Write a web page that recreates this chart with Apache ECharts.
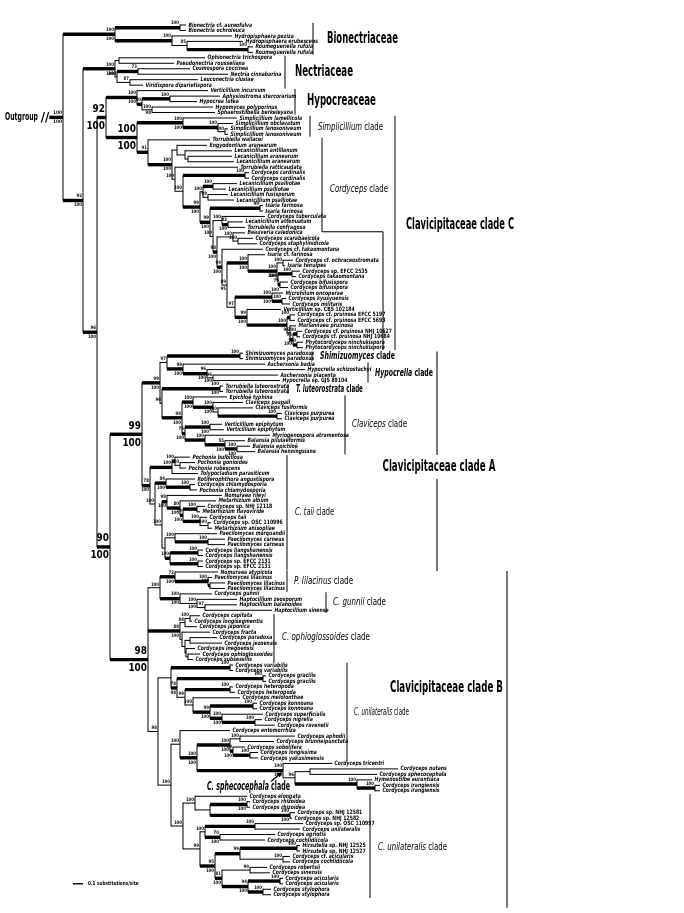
<!DOCTYPE html>
<html>
<head>
<meta charset="utf-8">
<script src="https://cdn.jsdelivr.net/npm/echarts@6/dist/echarts.min.js"></script>
<style>
  html, body { margin: 0; padding: 0; background: #fff; }
  #chart { width: 684px; height: 913px; }
</style>
</head>
<body>
<div id="chart"></div>
<script>
// ---- taxa, top to bottom (leaf index = position in this list) ----
const leafNames = [
  'Bionectria cf. aureofulva', 'Bionectria ochroleuca', 'Hydropisphaera peziza', 'Hydropisphaera erubescens',
  'Roumegueriella rufula', 'Roumegueriella rufula', 'Ophionectria trichospora', 'Pseudonectria rousseliana',
  'Cosmospora coccinea', 'Nectria cinnabarina', 'Leuconectria clusiae', 'Viridispora diparietispora',
  'Verticillium incurvum', 'Aphysiostroma stercorarium', 'Hypocrea lutea', 'Hypomyces polyporinus',
  'Sphaerostilbella berkeleyana', 'Simplicillium lamellicola', 'Simplicillium obclavatum', 'Simplicillium lanosoniveum',
  'Simplicillium lanosoniveum', 'Torrubiella wallacei', 'Engyodontium aranearum', 'Lecanicillium antillanum',
  'Lecanicillium aranearum', 'Lecanicillium aranearum', 'Torrubiella ratticaudata', 'Cordyceps cardinalis',
  'Cordyceps cardinalis', 'Lecanicillium psalliotae', 'Lecanicillium psalliotae', 'Lecanicillium fusisporum',
  'Lecanicillium psalliotae', 'Isaria farinosa', 'Isaria farinosa', 'Cordyceps tuberculata',
  'Lecanicillium attenuatum', 'Torrubiella confragosa', 'Beauveria caledonica', 'Cordyceps scarabaeicola',
  'Cordyceps staphylinidicola', 'Cordyceps cf. takaomontana', 'Isaria cf. farinosa', 'Cordyceps cf. ochraceostromata',
  'Isaria tenuipes', 'Cordyceps sp. EFCC 2535', 'Cordyceps takaomontana', 'Cordyceps bifusispora',
  'Cordyceps bifusispora', 'Microhilum oncoperae', 'Cordyceps kyusyuensis', 'Cordyceps militaris',
  'Verticillium sp. CBS 102184', 'Cordyceps cf. pruinosa EFCC 5197', 'Cordyceps cf. pruinosa EFCC 5693', 'Mariannaea pruinosa',
  'Cordyceps cf. pruinosa NHJ 10627', 'Cordyceps cf. pruinosa NHJ 10684', 'Phytocordyceps ninchukispora', 'Phytocordyceps ninchukispora',
  'Shimizuomyces paradoxus', 'Shimizuomyces paradoxus', 'Aschersonia badia', 'Hypocrella schizostachyi',
  'Aschersonia placenta', 'Hypocrella sp. GJS 89104', 'Torrubiella luteorostrata', 'Torrubiella luteorostrata',
  'Epichloë typhina', 'Claviceps paspali', 'Claviceps fusiformis', 'Claviceps purpurea',
  'Claviceps purpurea', 'Verticillium epiphytum', 'Verticillium epiphytum', 'Myriogenospora atramentosa',
  'Balansia pilulaeformis', 'Balansia epichloë', 'Balansia henningsiana', 'Pochonia bulbillosa',
  'Pochonia gonioides', 'Pochonia rubescens', 'Tolypocladium parasiticum', 'Rotiferophthora angustispora',
  'Cordyceps chlamydosporia', 'Pochonia chlamydosporia', 'Nomuraea rileyi', 'Metarhizium album',
  'Cordyceps sp. NHJ 12118', 'Metarhizium flavoviride', 'Cordyceps taii', 'Cordyceps sp. OSC 110996',
  'Metarhizium anisopliae', 'Paecilomyces marquandii', 'Paecilomyces carneus', 'Paecilomyces carneus',
  'Cordyceps liangshanensis', 'Cordyceps liangshanensis', 'Cordyceps sp. EFCC 2131', 'Cordyceps sp. EFCC 2131',
  'Nomuraea atypicola', 'Paecilomyces lilacinus', 'Paecilomyces lilacinus', 'Paecilomyces lilacinus',
  'Cordyceps gunnii', 'Haptocillium zeosporum', 'Haptocillium balanoides', 'Haptocillium sinense',
  'Cordyceps capitata', 'Cordyceps longisegmentis', 'Cordyceps japonica', 'Cordyceps fracta',
  'Cordyceps paradoxa', 'Cordyceps jezoensis', 'Cordyceps inegoensis', 'Cordyceps ophioglossoides',
  'Cordyceps subsessilis', 'Cordyceps variabilis', 'Cordyceps variabilis', 'Cordyceps gracilis',
  'Cordyceps gracilis', 'Cordyceps heteropoda', 'Cordyceps heteropoda', 'Cordyceps melolonthae',
  'Cordyceps konnoana', 'Cordyceps konnoana', 'Cordyceps superficialis', 'Cordyceps nigrella',
  'Cordyceps ravenelii', 'Cordyceps entomorrhiza', 'Cordyceps aphodii', 'Cordyceps brunneipunctata',
  'Cordyceps sobolifera', 'Cordyceps longissima', 'Cordyceps yakusimensis', 'Cordyceps tricentri',
  'Cordyceps nutans', 'Cordyceps sphecocephala', 'Hymenostilbe aurantiaca', 'Cordyceps irangiensis',
  'Cordyceps irangiensis', 'Cordyceps elongata', 'Cordyceps rhizoidea', 'Cordyceps rhizoidea',
  'Cordyceps sp. NHJ 12581', 'Cordyceps sp. NHJ 12582', 'Cordyceps sp. OSC 110997', 'Cordyceps unilateralis',
  'Cordyceps agriotis', 'Cordyceps cochlidiicola', 'Hirsutella sp. NHJ 12525', 'Hirsutella sp. NHJ 12527',
  'Cordyceps cf. acicularis', 'Cordyceps cochlidiicola', 'Cordyceps robertsii', 'Cordyceps sinensis',
  'Cordyceps acicularis', 'Cordyceps acicularis', 'Cordyceps stylophora', 'Cordyceps stylophora'
];

// ---- tree (Newick, leaves = index into leafNames, branch lengths in substitutions/site)
// node labels: "bootstrap/posterior", '*' = strongly supported (bold branch), '!' = major node
const bionectriaceae = '((0:.06,1:.06)100*:.65,(2:.60,(3:.56,(4:.05,5:.05)100*:.61)85:.15)100*:.57)100/100*:.52';
const nectriaceae = '((6:.86,7:.55):.04,((8:.52,9:.90)73*:.21,(10:.68,11:.13)87:.13)100:.02)100/100*:.32';
const hypocreaceae = '(12:.71,((13:.50,14:.27)100*:.28,(15:.61,16:.63)100/98:.10)80*:.05)100/100*:.31';
const simplicillium = '(17:.54,(18:.15,(19:.03,20:.03)100:.07)100*:.35)100/100*:.46';
const cordycepsPruinosa = '(52:.34,((53:.05,54:.05)100*:.03,(55:.06,((56:.05,57:.03)100*:.04,(58:.06,59:.06)100*:.04)94/100*:.03)96:.03)100*:.40)99/100*:.12';
const cordycepsMilitaris = '(49:.11,(50:.04,51:.08)100*:.10)100/100*:.37';
const cordycepsTakaomontana = '(42:.17,((43:.10,44:.02)100:.06,((45:.08,46:.04)100*:.14,(47:.08,48:.08)79/100*:.02)100:.01)100/100*:.29)100/100*:.21';
const cordycepsClade =
  '(21:.62,((22:.30,(23:.47,(24:.44,25:.46):.03):.08):.05,(26:.63,((27:.04,28:.04)100*:.62,' +
  '(((29:.24,30:.13)100*:.10,(31:.20,32:.26)99:.05)100:.03,((33:.03,34:.03)99*:.50,' +
  '((35:.43,(36:.15,37:.17)82/100*:.06)100:.09,((38:.12,(39:.15,40:.19)100:.05)100:.16,' +
  '(41:.41,(' + cordycepsTakaomontana + ',(' + cordycepsMilitaris + ',' + cordycepsPruinosa + ')97:.08)89/95:.05)99/100*:.05)98/100*:.04)100:.03)99/100*:.10)99/100*:.17)100:.08)100:.03)100/100*:.24)91*:.11';
const cladeC = '(' + simplicillium + ',' + cordycepsClade + ')100/100*!:.31';

const cladeAUpper =
  '(((60:.03,61:.03)100*:.73,(62:.82,(63:.98,(64:.65,65:.67)96/100:.06)96/100*:.24)99/100*:.16)97:.07,' +
  '((66:.03,67:.03)100/100*:.58,((68:.34,(69:.30,(70:.35,(71:.05,72:.05)100*:.59)100:.05)100/100*:.20)100/100*:.11,' +
  '((73:.12,74:.14)100/100*:.25,(75:.65,(76:.20,(77:.13,78:.18)100/100*:.12)55/100*:.20)100*:.20)75/100*:.03)98/100*:.20)96:.02)99/100*:.18';
const cladeALower =
  '(((79:.15,(80:.15,81:.06)100:.05)100*:.03,82:.26)100*:.22,((83:.29,(84:.05,85:.07)100*:.24)84/100*:.11,' +
  '((86:.55,(87:.36,((88:.08,89:.03)100*:.14,(90:.07,(91:.03,92:.04)100:.08)100*:.17)79/100*:.03)80/100*:.13)98/100*:.05,' +
  '((93:.42,(94:.17,95:.17)100*:.33)100:.10,((96:.05,97:.05)100*:.28,(98:.05,99:.05)100*:.28)100*:.05):.03)100:.07)100:.05)78/100*:.08';
const cladeA = '(' + cladeAUpper + ',' + cladeALower + ')99/100*!:.32';

const lilacinusGunnii = '((100:.43,(101:.04,(102:.15,103:.15)100*:.02)100*:.33)72/100*:.15,(104:.32,(105:.40,(106:.32,107:.67)97:.08)100/100:.17)100/100*:.20)100:.12';
const ophioglossoides = '(((108:.10,109:.02)100:.05,110:.12)88:.05,(111:.28,((112:.27,113:.32):.05,(114:.09,(115:.12,116:.05):.02):.01):.03):.02)88/100*:.32';
const unilateralisUpper = '((117:.03,118:.03)100*:.59,((119:.03,120:.03)100*:.86,((121:.03,122:.05)100*:.45,(123:.47,((124:.04,125:.04)100*:.43,(126:.41,(127:.07,128:.20)100*:.33)100/100*:.12)99/100*:.17)100:.08)99:.08)78/98*:.06):.13';
const sphecocephala = '(129:.50,(((130:.55,131:.34)100:.10,(132:.12,(133:.08,134:.08)100*:.17)99/100*:.03)100/100*:.33,(135:.49,((136:.88,137:.67):.15,(138:.15,(139:.05,140:.05)100*:.18)100*:.62)96:.12)100/100*:.86)100/100*:.17)100:.09';
const unilateralisLower =
  '((141:.52,((142:.03,143:.03)100/100*:.37,(144:.05,145:.02)100/100*:.80):.15)100:.12,' +
  '(((146:.48,147:.45)100*:.50,(148:.55,149:.45)70/100*:.15)100:.05,(((150:.03,151:.03)100*:.57,(152:.07,153:.07)100:.43)99*:.25,' +
  '((154:.17,155:.20)99:.28,((156:.03,157:.03)100*:.32,(158:.08,159:.08)100*:.15)94/100*:.26)81/100*:.07)95/100*:.15)99:.17)100:.12';
const cladeB = '(' + lilacinusGunnii + ',' + ophioglossoides + ',(' + unilateralisUpper + ',(' + sphecocephala + ',' + unilateralisLower + ')100:.13)98:.10)98/100*!:.38';

const treeNewick = '(' + bionectriaceae + ',(' + nectriaceae + ',((' + hypocreaceae + ',' + cladeC + ')92/100*!:.09,(' +
  cladeA + ',' + cladeB + ')90/100*!:.13)96/100*:.14)92/100*:.20);';

const outgroupLength = 0.18;
const outgroupSupport = ['100', '100'];
const scaleBarLength = 0.1;
const scaleBarLabel = '0.1 substitutions/site';

// ---- clade brackets: [depth, leaf index] points ----
const cladeBrackets = [
  { pts: [[2.50, -0.4], [2.50, 5.4]] },
  { pts: [[2.22, 5.6], [2.22, 11.6]] },
  { pts: [[2.32, 11.7], [2.32, 16.4]] },
  { pts: [[2.47, 16.6], [2.47, 20.4]] },
  { pts: [[2.59, 20.6], [2.59, 37.8], [3.20, 37.8], [3.20, 59.4]] },
  { pts: [[3.32, 16.6], [3.32, 59.4]] },
  { pts: [[2.49, 59.7], [2.49, 61.4]] },
  { pts: [[3.05, 61.7], [3.05, 65.4]] },
  { pts: [[2.25, 65.7], [2.25, 67.4]] },
  { pts: [[2.82, 67.7], [2.82, 78.5]] },
  { pts: [[2.24, 78.6], [2.24, 99.6]] },
  { pts: [[3.74, 59.7], [3.74, 78.6]], grey: true },
  { pts: [[3.74, 83.0], [3.74, 99.8]], grey: true },
  { pts: [[2.24, 99.7], [2.24, 103.6]] },
  { pts: [[2.63, 103.7], [2.63, 107.5]] },
  { pts: [[2.11, 107.7], [2.11, 116.6]] },
  { pts: [[4.44, 99.8], [4.44, 161.4]], grey: true },
  { pts: [[2.84, 116.6], [2.84, 134.6]] },
  { pts: [[3.07, 140.6], [3.07, 159.6]] }
];

// w = printed width of the label in px
const cladeLabels = [
  { text: 'Bionectriaceae', x: 2.64, y: 2.6, size: 15, w: 71, big: true },
  { text: 'Nectriaceae', x: 2.32, y: 8.6, size: 15, w: 58, big: true },
  { text: 'Hypocreaceae', x: 2.44, y: 14.0, size: 15, w: 69, big: true },
  { text: '{i|Simplicillium} clade', x: 2.55, y: 18.6, size: 11, w: 65 },
  { text: '{i|Cordyceps} clade', x: 2.67, y: 30.0, size: 11, w: 58 },
  { text: 'Clavicipitaceae clade C', x: 3.43, y: 36.6, size: 15, w: 108, big: true },
  { text: '{i|Shimizuomyces} clade', x: 2.57, y: 60.6, size: 11, w: 75, bold: true },
  { text: '{i|Hypocrella} clade', x: 3.12, y: 63.6, size: 11, w: 58, bold: true },
  { text: '{i|T. luteorostrata} clade', x: 2.33, y: 66.6, size: 11, w: 67, bold: true },
  { text: '{i|Claviceps} clade', x: 2.89, y: 73.0, size: 11, w: 55 },
  { text: '{i|C. taii} clade', x: 2.32, y: 89.0, size: 11, w: 39 },
  { text: 'Clavicipitaceae clade A', x: 3.76, y: 80.8, size: 15, w: 113, big: true, align: 'center' },
  { text: '{i|P. lilacinus} clade', x: 2.31, y: 101.6, size: 11, w: 59 },
  { text: '{i|C. gunnii} clade', x: 2.70, y: 105.6, size: 11, w: 53 },
  { text: '{i|C. ophioglossoides} clade', x: 2.19, y: 112.0, size: 11, w: 88 },
  { text: 'Clavicipitaceae clade B', x: 4.40, y: 121.2, size: 15, w: 113, big: true, align: 'right' },
  { text: '{i|C. unilateralis} clade', x: 2.91, y: 125.6, size: 10, w: 55 },
  { text: '{i|C. sphecocephala} clade', x: 1.44, y: 139.3, size: 12, w: 83, bold: true },
  { text: '{i|C. unilateralis} clade', x: 3.15, y: 150.3, size: 11, w: 69 }
];
const sphecocephalaArrow = [[2.08, 138.3], [2.19, 136.6]];

// ---- parse the tree ----
function parseNewick(s) {
  let i = 0;
  function node() {
    const n = { children: [] };
    if (s[i] === '(') {
      i++;
      n.children.push(node());
      while (s[i] === ',') { i++; n.children.push(node()); }
      i++;
    }
    let lab = '';
    while (i < s.length && ',():;'.indexOf(s[i]) < 0) lab += s[i++];
    n.len = 0;
    if (s[i] === ':') {
      i++;
      let len = '';
      while (i < s.length && ',();'.indexOf(s[i]) < 0) len += s[i++];
      n.len = parseFloat(len);
    }
    n.label = lab.trim();
    return n;
  }
  return node();
}

const root = parseNewick(treeNewick);
const treeNodes = [];
(function layout(n, parentX) {
  n.parentX = parentX;
  n.x = parentX + n.len;
  if (n.children.length) {
    n.thick = n.label.indexOf('*') >= 0;
    n.big = n.label.indexOf('!') >= 0;
    n.support = n.label.replace(/[*!]/g, '');
    n.children.forEach(c => layout(c, n.x));
    n.y = (n.children[0].y + n.children[n.children.length - 1].y) / 2;
  } else {
    n.leaf = parseInt(n.label, 10);
    n.y = n.leaf;
    n.support = '';
  }
  treeNodes.push(n);
})(root, 0);

// ---- drawing ----
const NARROW = "'Liberation Sans Narrow','Arial Narrow','DejaVu Sans Condensed',sans-serif";
const measureCtx = document.createElement('canvas').getContext('2d');
function plainWidth(text, size, weight) {
  measureCtx.font = weight + ' ' + size + 'px ' + NARROW;
  return measureCtx.measureText(text.replace(/\{i\|([^}]*)\}/g, '$1')).width;
}

function leafRich(name) {
  return name.split(' ').map(w =>
    (w === 'sp.' || w === 'cf.' || /^[A-Z]{2,}$/.test(w) || /^\d+$/.test(w)) ? '{r|' + w + '}' : '{i|' + w + '}'
  ).join(' ');
}

function renderTree(params, api) {
  const n = treeNodes[params.dataIndex];
  const a = api.coord([n.parentX, n.y]);
  const b = api.coord([n.x, n.y]);
  const kids = [];
  if (n.x > n.parentX) {
    kids.push({ type: 'line', shape: { x1: a[0], y1: b[1], x2: b[0], y2: b[1] },
      style: { stroke: '#000', lineWidth: n.thick ? 3.4 : 1 } });
  }
  if (n.children.length) {
    const t = api.coord([n.x, n.children[0].y]);
    const u = api.coord([n.x, n.children[n.children.length - 1].y]);
    kids.push({ type: 'line', shape: { x1: b[0], y1: t[1] - 0.5, x2: b[0], y2: u[1] + 0.5 },
      style: { stroke: '#000', lineWidth: 1 } });
    if (n.support) {
      const parts = n.support.split('/');
      const fs = n.big ? 11 : 4.8;
      const off = n.big ? 3 : (n.thick ? 2 : 0.8);
      const base = { fontSize: fs, fontFamily: NARROW, fontWeight: 'bold', fill: '#000', align: 'right' };
      kids.push({ type: 'text', x: b[0] - 1, y: b[1] - off, scaleX: 0.9,
        style: Object.assign({ text: parts[0], verticalAlign: 'bottom' }, base) });
      if (parts[1]) {
        kids.push({ type: 'text', x: b[0] - 1, y: b[1] + off, scaleX: 0.9,
          style: Object.assign({ text: parts[1], verticalAlign: 'top' }, base) });
      }
    }
  } else {
    const rs = { fontSize: 6, fontFamily: NARROW, fontWeight: 'bold', fill: '#000' };
    kids.push({ type: 'text', x: b[0] + 2.5, y: b[1], scaleX: 0.85,
      style: { text: leafRich(leafNames[n.leaf]), fontSize: 6, fontFamily: NARROW, fontWeight: 'bold',
        fill: '#000', align: 'left', verticalAlign: 'middle',
        rich: { i: Object.assign({ fontStyle: 'italic' }, rs), r: Object.assign({ fontStyle: 'normal' }, rs) } } });
  }
  return { type: 'group', children: kids };
}

function renderBracket(params, api) {
  const br = cladeBrackets[params.dataIndex];
  const pts = br.pts.map(p => api.coord(p));
  return { type: 'polyline', shape: { points: pts },
    style: { stroke: br.grey ? '#555' : '#000', lineWidth: br.grey ? 1.6 : 1, fill: null } };
}

function renderCladeLabel(params, api) {
  const c = cladeLabels[params.dataIndex];
  const p = api.coord([c.x, c.y]);
  const weight = (c.big || c.bold) ? 'bold' : 'normal';
  const base = { fontSize: c.size, fontFamily: NARROW, fontWeight: weight, fill: '#000' };
  const sx = c.w / plainWidth(c.text, c.size, weight);
  return { type: 'text', x: p[0], y: p[1], scaleX: sx,
    style: Object.assign({ text: c.text, align: c.align || 'left', verticalAlign: 'middle',
      rich: { i: Object.assign({ fontStyle: 'italic' }, base) } }, base) };
}

function renderExtras(params, api) {
  const kids = [];
  // outgroup
  const o1 = api.coord([-outgroupLength, root.y]);
  const o2 = api.coord([0, root.y]);
  kids.push({ type: 'line', shape: { x1: o1[0], y1: o1[1], x2: o2[0], y2: o2[1] }, style: { stroke: '#000', lineWidth: 3.4 } });
  kids.push({ type: 'text', x: o1[0], y: o1[1], style: { text: '//', fontSize: 13, fontFamily: NARROW, fontWeight: 'bold',
    fill: '#000', align: 'center', verticalAlign: 'middle', backgroundColor: '#fff' } });
  kids.push({ type: 'text', x: o1[0] - 7, y: o1[1], scaleX: 33 / plainWidth('Outgroup', 11, 'bold'),
    style: { text: 'Outgroup', fontSize: 11, fontFamily: NARROW,
    fontWeight: 'bold', fill: '#000', align: 'right', verticalAlign: 'middle' } });
  const sb = { fontSize: 4.8, fontFamily: NARROW, fontWeight: 'bold', fill: '#000', align: 'right' };
  kids.push({ type: 'text', x: o2[0] - 1, y: o2[1] - 2, style: Object.assign({ text: outgroupSupport[0], verticalAlign: 'bottom' }, sb) });
  kids.push({ type: 'text', x: o2[0] - 1, y: o2[1] + 2, style: Object.assign({ text: outgroupSupport[1], verticalAlign: 'top' }, sb) });
  // scale bar
  const s1 = api.coord([0.10, 157]);
  const s2 = api.coord([0.10 + scaleBarLength, 157]);
  kids.push({ type: 'line', shape: { x1: s1[0], y1: s1[1], x2: s2[0], y2: s2[1] }, style: { stroke: '#000', lineWidth: 1.4 } });
  kids.push({ type: 'text', x: s2[0] + 5, y: s2[1], scaleX: 0.85, style: { text: scaleBarLabel, fontSize: 5.5, fontFamily: NARROW,
    fontWeight: 'bold', fill: '#000', align: 'left', verticalAlign: 'middle' } });
  // arrow to the C. sphecocephala node
  const a1 = api.coord(sphecocephalaArrow[0]);
  const a2 = api.coord(sphecocephalaArrow[1]);
  const ang = Math.atan2(a2[1] - a1[1], a2[0] - a1[0]);
  const hl = 5, hw = 2.6;
  const bx = a2[0] - hl * Math.cos(ang), by = a2[1] - hl * Math.sin(ang);
  kids.push({ type: 'line', shape: { x1: a1[0], y1: a1[1], x2: bx, y2: by }, style: { stroke: '#000', lineWidth: 1.4 } });
  kids.push({ type: 'polygon', shape: { points: [[a2[0], a2[1]],
    [bx + hw * Math.sin(ang), by - hw * Math.cos(ang)], [bx - hw * Math.sin(ang), by + hw * Math.cos(ang)]] },
    style: { fill: '#000' } });
  return { type: 'group', children: kids };
}

const chart = echarts.init(document.getElementById('chart'), null, { renderer: 'canvas' });
chart.setOption({
  animation: false,
  backgroundColor: '#fff',
  grid: { left: 0, right: 0, top: 0, bottom: 0 },
  xAxis: { type: 'value', min: -0.63, max: 6.21, show: false },
  yAxis: { type: 'value', min: -4.57, max: 162.34, inverse: true, show: false },
  series: [
    { type: 'custom', name: 'tree', renderItem: renderTree, data: treeNodes.map(n => [n.x, n.y]), silent: true },
    { type: 'custom', name: 'brackets', renderItem: renderBracket, data: cladeBrackets.map(b => b.pts[0]), silent: true },
    { type: 'custom', name: 'clades', renderItem: renderCladeLabel, data: cladeLabels.map(c => [c.x, c.y]), silent: true },
    { type: 'custom', name: 'extras', renderItem: renderExtras, data: [[0, root.y]], silent: true }
  ]
});
</script>
</body>
</html>
